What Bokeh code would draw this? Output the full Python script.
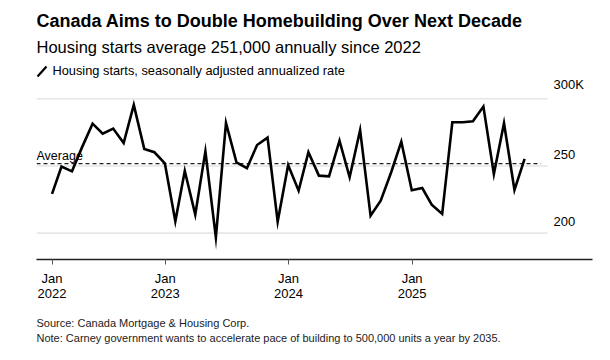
import pandas as pd
from bokeh.plotting import figure
from bokeh.models import (Range1d, FixedTicker, DatetimeTickFormatter, DatetimeAxis, Label,
                          Arrow, Title)
from bokeh.embed import file_html
from bokeh.resources import INLINE

# ---- data ----
months = pd.date_range("2022-01-31", periods=47, freq="ME")
starts = [229.2, 249.5, 246.0, 264.0, 281.5, 274.1, 277.8, 267.1, 295.4, 262.7, 260.2, 252.0,
          208.8, 246.3, 213.8, 260.9, 196.9, 282.0, 252.7, 248.3, 265.6, 271.1, 208.6, 250.7,
          231.6, 260.2, 242.8, 242.3, 268.8, 241.6, 276.6, 213.0, 224.2, 245.3, 268.1, 231.9,
          233.6, 221.2, 214.3, 282.5, 282.5, 283.3, 294.2, 244.0, 281.8, 232.1, 255.2]
average = 251.7
y_ticks = [200, 250, 300]
y_tick_labels = ["200", "250", "300K"]
x_tick_dates = [months[0], pd.Timestamp("2023-01-01"), pd.Timestamp("2024-01-01"),
                pd.Timestamp("2025-01-01")]

title = "Canada Aims to Double Homebuilding Over Next Decade"
subtitle = "Housing starts average 251,000 annually since 2022"
legend_text = "Housing starts, seasonally adjusted annualized rate"
source_text = "Source: Canada Mortgage & Housing Corp."
note_text = "Note: Carney government wants to accelerate pace of building to 500,000 units a year by 2035."

FONT = "Liberation Sans"

# ---- layout constants ----
x_start = pd.Timestamp("2021-12-16")
x_end = pd.Timestamp("2026-06-19")
grid_end = pd.Timestamp("2026-02-06")
avg_end = pd.Timestamp("2026-01-17")
y_start, y_end = 180.4, 373.1

p = figure(width=610, height=360, output_backend="svg", toolbar_location=None,
           x_axis_type="datetime", y_axis_location=None, title=None,
           x_range=Range1d(x_start, x_end), y_range=Range1d(y_start, y_end),
           min_border_left=36, min_border_right=18, min_border_top=0, min_border_bottom=101)
p.outline_line_color = None
p.background_fill_color = "white"
p.border_fill_color = "white"
p.xgrid.visible = False
p.ygrid.visible = False

# horizontal gridlines (shortened to leave room for right-side labels)
p.segment(x0=[x_start] * len(y_ticks), x1=[grid_end] * len(y_ticks), y0=y_ticks, y1=y_ticks,
          line_color="#e6e6e6", line_width=1.6)

# average dashed line
p.segment(x0=[x_start], x1=[avg_end], y0=[average], y1=[average],
          line_color="#222222", line_width=1.3, line_dash="4 3")

# data line
p.line(months, starts, line_color="black", line_width=2.6, line_join="miter")

# y labels (right side, sitting above each gridline)
for yv, yl in zip(y_ticks, y_tick_labels):
    p.add_layout(Label(x=grid_end, y=yv, text=yl, x_offset=6, y_offset=7,
                       text_baseline="bottom", text_align="left", text_font=FONT,
                       text_font_size="13px", text_color="black"))

p.add_layout(Label(x=x_start, y=average, text="Average", text_font=FONT, text_font_size="12.5px",
                   text_baseline="bottom", text_align="left", y_offset=1, text_color="black"))

# x axes: month row (with line and ticks) and year row
def fmt_all(f):
    return DatetimeTickFormatter(days=f, months=f, years=f, hours=f, minutes=f, seconds=f,
                                 milliseconds=f, microseconds=f, minsec=f, hourmin=f)

ticker = FixedTicker(ticks=[d.timestamp() * 1000 for d in x_tick_dates])
ax = p.xaxis[0]
ax.ticker = ticker
ax.formatter = fmt_all("%b")
ax.axis_line_color = "#222222"
ax.axis_line_width = 1.3
ax.major_tick_line_color = "#555555"
ax.major_tick_out = 5
ax.major_tick_in = 0
ax.minor_tick_line_color = None
ax.major_label_text_font = FONT
ax.major_label_text_font_size = "13px"
ax.major_label_text_color = "black"
ax.major_label_standoff = 6

ax2 = DatetimeAxis(ticker=ticker, formatter=fmt_all("%Y"), axis_line_color=None,
                   major_tick_line_color=None, minor_tick_line_color=None,
                   major_tick_out=0, major_tick_in=0, major_label_standoff=0,
                   major_label_text_font=FONT, major_label_text_font_size="13px",
                   major_label_text_color="black")
p.add_layout(ax2, "below")

# footer (two lines in one title block)
p.add_layout(Title(text=source_text + "\n" + note_text, align="left", text_font=FONT,
                   text_font_size="11px", text_font_style="normal", text_color="#222222",
                   text_line_height=1.27, standoff=30), "below")

# header texts (screen units: x from frame left, y up from frame bottom)
FL, FB = 36, 259
def lab(txt, px, py, size, style="normal", color="black"):
    p.add_layout(Label(x=px - FL, y=FB - py, x_units="screen", y_units="screen", text=txt,
                       text_font=FONT, text_font_size=size, text_font_style=style,
                       text_color=color, text_baseline="middle", text_align="left"))

lab(title, 36, 20, "18px", "bold")
lab(subtitle, 36, 46, "16.5px")
lab(legend_text, 52, 70, "12.8px")

p.add_layout(Arrow(end=None, x_start=37 - FL, y_start=FB - 76, x_end=46 - FL, y_end=FB - 66,
                   start_units="screen", end_units="screen", line_width=2.2, line_color="black"))

open("out.html", "w").write(file_html(p, INLINE))
